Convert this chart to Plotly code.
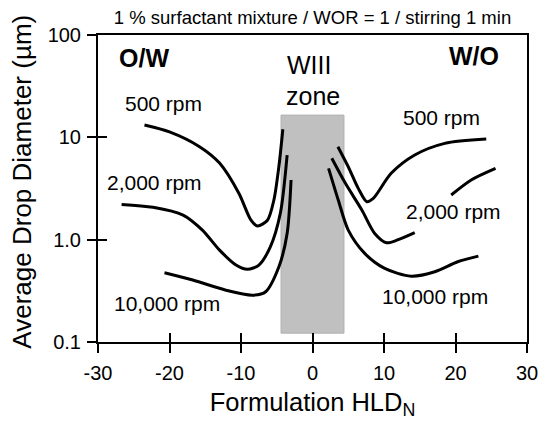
import plotly.graph_objects as go

# values (x = HLD_N, y = drop diameter in um)
ow_500_x = [-23.5, -20.0, -15.8, -13.0, -10.3, -8.6, -7.7, -6.3, -5.4, -4.7, -4.15]
ow_500_y = [13.2, 11.3, 8.1, 5.6, 2.84, 1.55, 1.36, 1.55, 2.44, 5.2, 12.0]

ow_2000_x = [-26.7, -22.3, -18.1, -15.4, -13.0, -10.7, -9.1, -7.5, -5.9, -4.5, -3.55]
ow_2000_y = [2.21, 2.07, 1.74, 1.24, 0.79, 0.565, 0.513, 0.565, 0.85, 1.81, 6.7]

ow_10000_x = [-20.7, -16.75, -12.1, -8.4, -6.55, -4.7, -3.55, -3.0]
ow_10000_y = [0.475, 0.403, 0.321, 0.287, 0.31, 0.543, 1.15, 3.83]

wo_500_x = [3.55, 5.0, 6.4, 7.6, 8.5, 11.0, 14.3, 18.5, 24.3]
wo_500_y = [8.1, 5.16, 3.17, 2.35, 2.53, 4.45, 6.72, 8.73, 9.62]

# the 2,000 rpm W/O curve is broken where its label sits
wo_2000_x = [2.7, 4.6, 6.9, 8.7, 10.35, 12.0, 14.3, None, 19.4, 22.2, 25.6]
wo_2000_y = [6.24, 3.55, 1.95, 1.15, 0.933, 1.0, 1.17, None, 2.73, 3.83, 4.97]

wo_10000_x = [2.25, 3.6, 5.0, 7.3, 10.1, 13.8, 17.1, 20.3, 23.2]
wo_10000_y = [4.97, 2.44, 1.24, 0.735, 0.524, 0.44, 0.486, 0.608, 0.69]

# Winsor III zone
zone_x = [-4.4, 4.4]
zone_y = [0.122, 16.5]

x_ticks = [-30, -20, -10, 0, 10, 20, 30]
x_tick_text = ['-30', '-20', '-10', '0', '10', '20', '30']
y_ticks = [0.1, 1, 10, 100]
y_tick_text = ['0.1', '1.0', '10', '100']

FONT = 'Liberation Sans, Arial, Helvetica, sans-serif'

fig = go.Figure()

# grey WIII rectangle
fig.add_trace(go.Scatter(
    x=[zone_x[0], zone_x[1], zone_x[1], zone_x[0], zone_x[0]],
    y=[zone_y[0], zone_y[0], zone_y[1], zone_y[1], zone_y[0]],
    mode='lines', fill='toself', fillcolor='#c0c0c0',
    line=dict(color='#b0b0b0', width=1), hoverinfo='skip', showlegend=False,
))

curves = [
    (ow_500_x, ow_500_y), (ow_2000_x, ow_2000_y), (ow_10000_x, ow_10000_y),
    (wo_500_x, wo_500_y), (wo_2000_x, wo_2000_y), (wo_10000_x, wo_10000_y),
]
for cx, cy in curves:
    fig.add_trace(go.Scatter(
        x=cx, y=cy, mode='lines', connectgaps=False,
        line=dict(color='black', width=3, shape='spline', smoothing=0.8),
        showlegend=False,
    ))

# invisible trace so the overlay axes (inner half of the crossing ticks) get drawn
fig.add_trace(go.Scatter(x=[0], y=[1], xaxis='x2', yaxis='y2', mode='markers',
                         marker=dict(opacity=0), hoverinfo='skip', showlegend=False))

# label positions in data units (y given as log10)
labels = [
    ('O/W', -23.5, 1.78, 25, True),
    ('W/O', 22.6, 1.79, 25, True),
    ('WIII', -0.5, 1.705, 25, False),
    ('zone', 0.1, 1.40, 25, False),
    ('500 rpm', -20.8, 1.33, 21, False),
    ('2,000 rpm', -22.1, 0.555, 21, False),
    ('10,000 rpm', -20.3, -0.62, 21, False),
    ('500 rpm', 18.1, 1.19, 21, False),
    ('2,000 rpm', 19.7, 0.28, 21, False),
    ('10,000 rpm', 17.2, -0.56, 21, False),
]
for text, ax, ay, size, bold in labels:
    fig.add_annotation(
        x=ax, y=ay, xref='x', yref='y', showarrow=False,
        text='<b>%s</b>' % text if bold else text,
        font=dict(family=FONT, size=size, color='black'),
    )

# y axis title sits a bit above the plot centre in the original
fig.add_annotation(
    x=-0.176, y=0.524, xref='paper', yref='paper', showarrow=False,
    text='Average Drop Diameter (µm)', textangle=-90,
    xanchor='center', yanchor='middle',
    font=dict(family=FONT, size=26, color='black'),
)

axis_common = dict(showgrid=False, zeroline=False, ticklen=9, tickwidth=2,
                   tickcolor='black')

# page has an 8px body margin, so the figure is 8px smaller than the window
W, H = 542, 428
fig.update_layout(
    width=W, height=H,
    margin=dict(l=90, r=20, t=27, b=94),
    paper_bgcolor='white', plot_bgcolor='white',
    font=dict(family=FONT, color='black'),
    title=dict(text='1 % surfactant mixture / WOR = 1 / stirring 1 min',
               x=0.5, xref='paper', y=1 - 3 / H, yref='container',
               xanchor='center', yanchor='top', pad=dict(t=0),
               font=dict(family=FONT, size=18.5, color='black')),
    xaxis=dict(range=[-30, 30], tickvals=x_ticks, ticktext=x_tick_text,
               ticks='outside', showline=True, linecolor='black', linewidth=2,
               mirror=True, tickfont=dict(size=20), ticklabelstandoff=3,
               title=dict(text='Formulation HLD<sub>N</sub>',
                          font=dict(size=25.5), standoff=10),
               **axis_common),
    yaxis=dict(type='log', range=[-1, 2], tickvals=y_ticks, ticktext=y_tick_text,
               ticks='outside', showline=True, linecolor='black', linewidth=2,
               mirror=True, tickfont=dict(size=20), ticklabelstandoff=2,
               **axis_common),
    xaxis2=dict(range=[-30, 30], tickvals=x_ticks, ticks='inside', overlaying='x',
                anchor='y2', side='bottom', showticklabels=False, showline=False,
                **axis_common),
    yaxis2=dict(type='log', range=[-1, 2], tickvals=y_ticks, ticks='inside',
                overlaying='y', anchor='x2', side='left', showticklabels=False,
                showline=False, **axis_common),
)

fig.write_html("out.html")
